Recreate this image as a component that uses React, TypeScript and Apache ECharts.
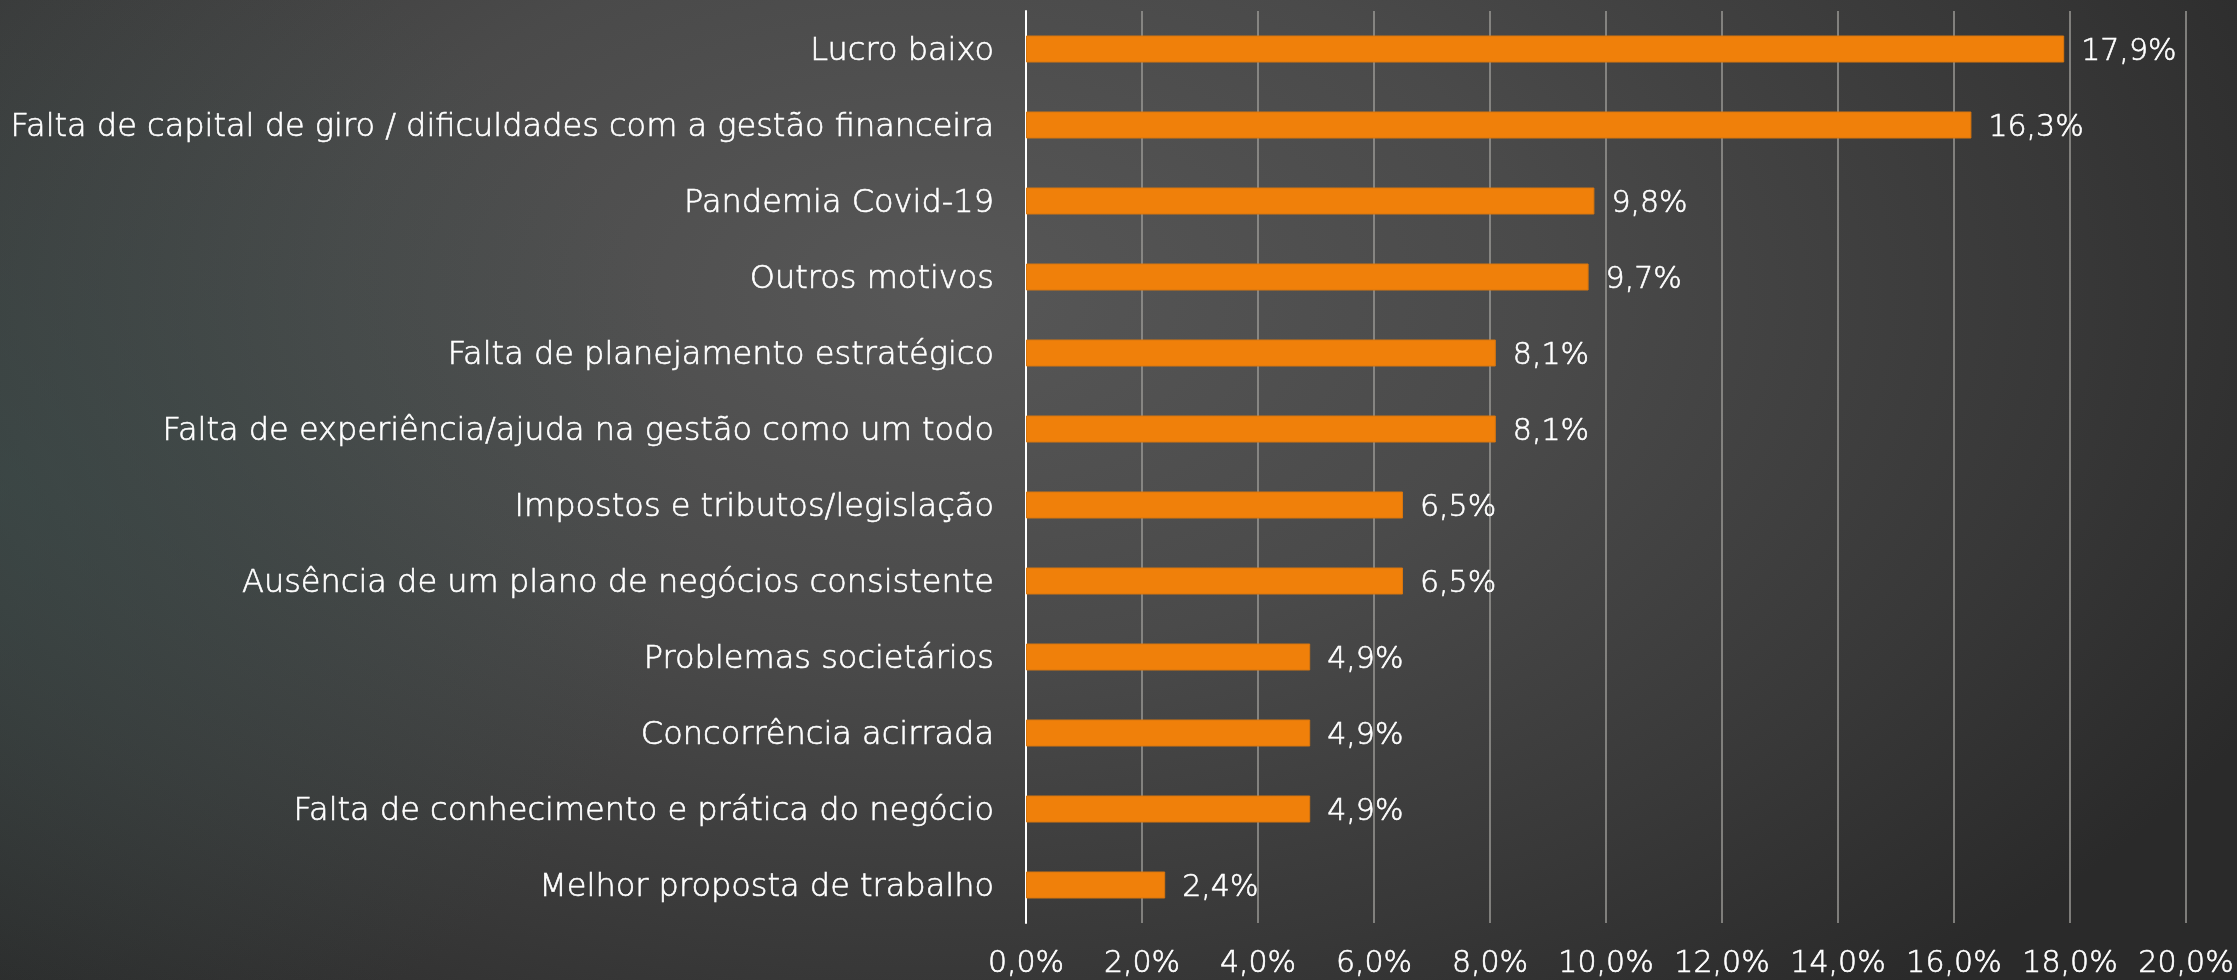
import React, { useEffect, useRef } from "react";
import * as echarts from "echarts";

const categories = [
  "Lucro baixo",
  "Falta de capital de giro / dificuldades com a gestão financeira",
  "Pandemia Covid-19",
  "Outros motivos",
  "Falta de planejamento estratégico",
  "Falta de experiência/ajuda na gestão como um todo",
  "Impostos e tributos/legislação",
  "Ausência de um plano de negócios consistente",
  "Problemas societários",
  "Concorrência acirrada",
  "Falta de conhecimento e prática do negócio",
  "Melhor proposta de trabalho",
];
const values = [17.9, 16.3, 9.8, 9.7, 8.1, 8.1, 6.5, 6.5, 4.9, 4.9, 4.9, 2.4];
const axisMin = 0;
const axisMax = 20;
const axisStep = 2;

const FONT = "'DejaVu Sans'";
const WEIGHT = 200;
const STROKE = { textBorderColor: "#ffffff", textBorderWidth: 0.6 };
const fmt = (v: number) => v.toFixed(1).replace(".", ",") + "%";

export default function App() {
  const ref = useRef<HTMLDivElement>(null);
  useEffect(() => {
    document.body.style.margin = "0";
    const chart = echarts.init(ref.current!, null, { renderer: "svg" });
    chart.setOption({
      animation: false,
      backgroundColor: "transparent",
      grid: { left: 1026, right: 51, top: 11, bottom: 57, containLabel: false },
      xAxis: {
        type: "value",
        min: axisMin,
        max: axisMax,
        interval: axisStep,
        axisLine: { show: false },
        axisTick: { show: false },
        splitLine: { show: true, lineStyle: { color: "#9a9894", width: 1.5 } },
        axisLabel: {
          color: "#ffffff",
          fontFamily: FONT,
          fontWeight: WEIGHT,
          fontSize: 30,
          margin: 23,
          ...STROKE,
          formatter: (v: number) => fmt(v),
        },
      },
      yAxis: {
        type: "category",
        inverse: true,
        data: categories,
        axisLine: { show: true, lineStyle: { color: "#ffffff", width: 2 } },
        axisTick: { show: false },
        axisLabel: {
          color: "#ffffff",
          fontFamily: FONT,
          fontWeight: WEIGHT,
          fontSize: 32,
          margin: 32,
          ...STROKE,
        },
      },
      series: [
        {
          type: "bar",
          data: values,
          barWidth: 27,
          itemStyle: { color: "#f0800a", borderColor: "#d8760e", borderWidth: 1 },
          label: {
            show: true,
            position: "right",
            distance: 17,
            color: "#ffffff",
            fontFamily: FONT,
            fontWeight: WEIGHT,
            fontSize: 30,
            ...STROKE,
            formatter: (p: any) => fmt(p.value),
          },
        },
      ],
    });
    return () => chart.dispose();
  }, []);
  return (
    <div
      style={{
        position: "fixed",
        left: 0,
        top: 0,
        width: 2237,
        height: 980,
        background:
          "radial-gradient(ellipse 700px 600px at 0% 50%, rgba(58,78,76,0.55), rgba(58,78,76,0) 100%), radial-gradient(ellipse 1500px 900px at 42% 30%, #575757 0%, #4a4a4a 40%, #383838 75%, #2a2a2a 100%)",
      }}
    >
      <div ref={ref} style={{ width: 2237, height: 980 }} />
    </div>
  );
}
